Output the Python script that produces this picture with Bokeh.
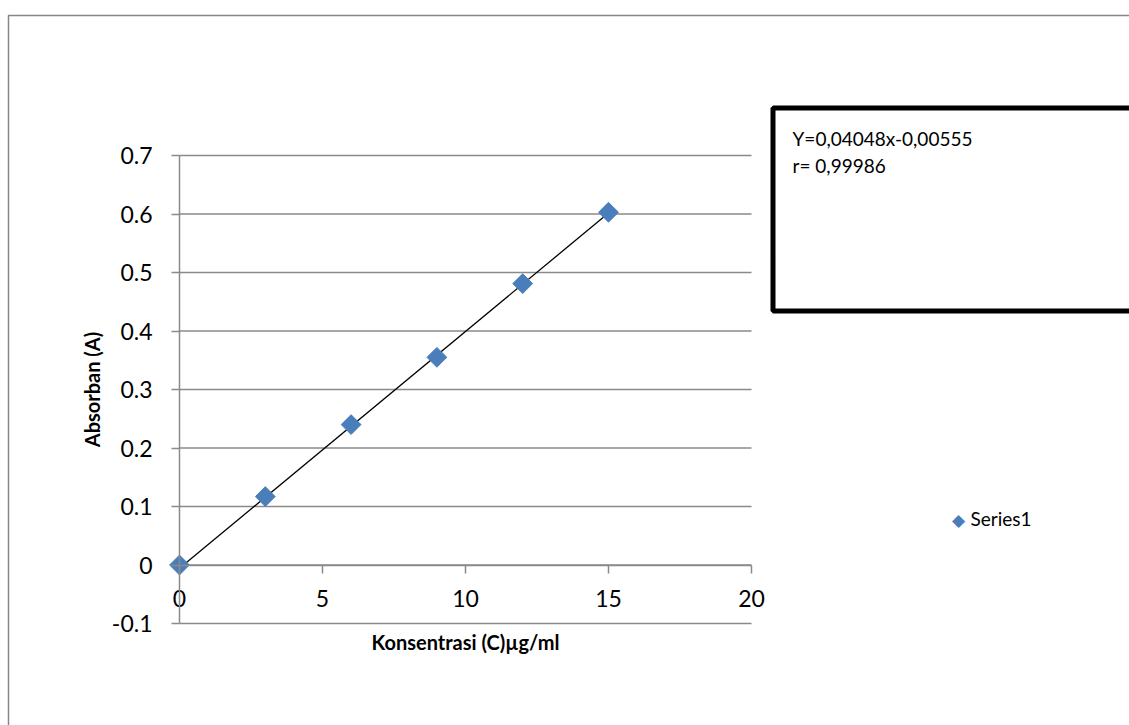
from bokeh.plotting import figure
from bokeh.models import (LinearAxis, FixedTicker, BoxAnnotation, Label,
                          Range1d)
from bokeh.embed import file_html
from bokeh.resources import INLINE

# Calibration data: concentration (µg/ml) vs absorbance
konsentrasi = [0, 3, 6, 9, 12, 15]
absorban = [0.0, 0.117, 0.240, 0.355, 0.481, 0.603]

# Linear regression reported for the calibration curve
slope = 0.04048
intercept = -0.00555
r_value = 0.99986

x_ticks = [0, 5, 10, 15, 20]
y_ticks = [-0.1, 0.0, 0.1, 0.2, 0.3, 0.4, 0.5, 0.6, 0.7]
x_lim = (0, 20)
y_lim = (-0.1, 0.7)
series_name = "Series1"

FONT = "Lato"
GRID = "#8a8a8a"
BLUE = "#4a7ebb"

# canvas size and where the plotting area sits on it (pixels)
W, H = 1129, 725
PX_L, PX_R, PX_T, PX_B = 179, 751, 155, 623

# the frame covers the whole canvas; ranges are widened so that the
# axes region lands at the pixel box above
kx = (PX_R - PX_L) / (x_lim[1] - x_lim[0])
ky = (PX_B - PX_T) / (y_lim[1] - y_lim[0])
x_range = Range1d(x_lim[0] - PX_L / kx, x_lim[1] + (W - PX_R) / kx)
y_range = Range1d(y_lim[0] - (H - PX_B) / ky, y_lim[1] + PX_T / ky)

p = figure(width=W, height=H, output_backend="svg", toolbar_location=None,
           x_range=x_range, y_range=y_range,
           x_axis_type=None, y_axis_type=None,
           min_border=0, min_border_left=0, min_border_right=0,
           min_border_top=0, min_border_bottom=0)
p.outline_line_color = None
p.background_fill_color = "white"
p.border_fill_color = "white"


def sx(px):
    return px


def sy(py):
    return H - py


# outer chart border (left and top edges visible on the page)
p.add_layout(BoxAnnotation(left=sx(8), right=sx(W + 50),
                           top=sy(15), bottom=sy(H + 50),
                           left_units="screen", right_units="screen",
                           top_units="screen", bottom_units="screen",
                           fill_alpha=0, line_color="#878787",
                           line_alpha=1.0, line_width=1.5, level="underlay"))

# horizontal gridlines across the plotting area
p.segment(x0=[x_lim[0]] * len(y_ticks), x1=[x_lim[1]] * len(y_ticks),
          y0=y_ticks, y1=y_ticks, line_color=GRID, line_width=1.5)

# y axis at x = 0
yaxis = LinearAxis(ticker=FixedTicker(ticks=y_ticks), fixed_location=0,
                   bounds=y_lim)
yaxis.major_label_overrides = {0: "0", -0.1: "-0.1"}
yaxis.axis_label = "Absorban (A)"
yaxis.axis_label_text_font = FONT
yaxis.axis_label_text_font_style = "bold"
yaxis.axis_label_text_font_size = "20px"
yaxis.axis_label_text_color = "black"
yaxis.axis_label_standoff = 5
yaxis.major_label_text_font = FONT
yaxis.major_label_text_font_size = "23px"
yaxis.major_label_text_color = "black"
yaxis.major_label_standoff = 19
yaxis.axis_line_color = GRID
yaxis.axis_line_width = 1.5
yaxis.major_tick_line_color = GRID
yaxis.major_tick_line_width = 1.5
yaxis.major_tick_out = 8
yaxis.major_tick_in = 0
yaxis.minor_tick_line_color = None
p.add_layout(yaxis, "left")

# x axis crossing at y = 0
xaxis = LinearAxis(ticker=FixedTicker(ticks=x_ticks), fixed_location=0,
                   bounds=x_lim)
xaxis.major_label_text_font = FONT
xaxis.major_label_text_font_size = "23px"
xaxis.major_label_text_color = "black"
xaxis.major_label_standoff = 17
xaxis.axis_line_color = GRID
xaxis.axis_line_width = 1.5
xaxis.major_tick_line_color = GRID
xaxis.major_tick_line_width = 1.5
xaxis.major_tick_out = 8
xaxis.major_tick_in = 0
xaxis.minor_tick_line_color = None
p.add_layout(xaxis, "below")

# title-only axis along the bottom of the plotting area
xtitle = LinearAxis(ticker=FixedTicker(ticks=[]), fixed_location=y_lim[0],
                    bounds=x_lim)
xtitle.axis_label = "Konsentrasi (C)µg/ml"
xtitle.axis_label_text_font = FONT
xtitle.axis_label_text_font_style = "bold"
xtitle.axis_label_text_font_size = "20px"
xtitle.axis_label_text_color = "black"
xtitle.axis_label_standoff = 6
xtitle.axis_line_color = None
xtitle.major_tick_line_color = None
xtitle.minor_tick_line_color = None
xtitle.major_label_text_font_size = "0px"
xtitle.major_tick_out = 0
xtitle.major_label_standoff = 0
p.add_layout(xtitle, "below")

# fitted line
x_fit = [min(konsentrasi), max(konsentrasi)]
y_fit = [slope * x + intercept for x in x_fit]
p.line(x_fit, y_fit, line_color="black", line_width=1.3)

# data points as diamonds (squares turned by 45 degrees)
p.scatter(konsentrasi, absorban, marker="square", angle=0.785398,
          size=14, fill_color=BLUE, line_color=BLUE)

# equation box
p.add_layout(BoxAnnotation(left=sx(772.5), right=sx(W + 50),
                           top=sy(107.5), bottom=sy(310.5),
                           left_units="screen", right_units="screen",
                           top_units="screen", bottom_units="screen",
                           fill_color="white", fill_alpha=1.0,
                           line_color="black", line_alpha=1.0, line_width=5))

eq_text = f"Y={slope:.5f}x-{abs(intercept):.5f}".replace(".", ",")
r_text = f"r= {r_value:.5f}".replace(".", ",")
for i, t in enumerate([eq_text, r_text]):
    p.add_layout(Label(x=sx(792), y=sy(138 + 27 * i),
                       x_units="screen", y_units="screen", text=t,
                       text_font=FONT, text_font_size="19px",
                       text_color="black", text_baseline="alphabetic"))

# series key: blue diamond followed by the series name
p.add_layout(Label(x=sx(958), y=sy(519), x_units="screen", y_units="screen",
                   text="\u25c6", text_font="DejaVu Sans",
                   text_font_size="17px", text_color=BLUE,
                   text_align="center", text_baseline="middle"))
p.add_layout(Label(x=sx(970), y=sy(518), x_units="screen", y_units="screen",
                   text=series_name, text_font=FONT, text_font_size="19px",
                   text_color="black", text_align="left",
                   text_baseline="middle"))

open("out.html", "w").write(file_html(p, INLINE))
